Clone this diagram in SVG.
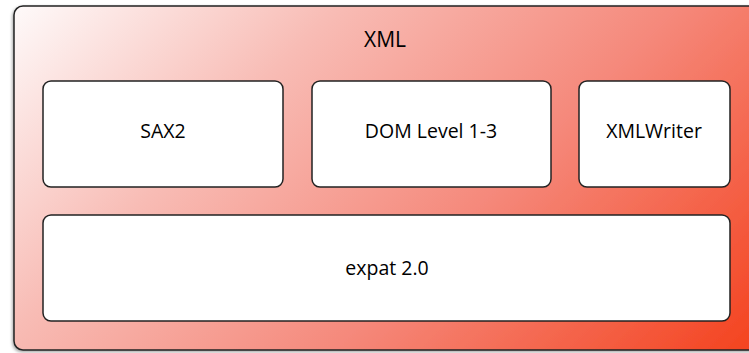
<svg xmlns="http://www.w3.org/2000/svg" width="749" height="353" viewBox="0 0 749 353">
<defs>
<linearGradient id="bg" x1="14" y1="6" x2="554" y2="546" gradientUnits="userSpaceOnUse">
<stop offset="0" stop-color="#fefafa"/>
<stop offset="0.3" stop-color="#f8bcb5"/>
<stop offset="0.62" stop-color="#f5887a"/>
<stop offset="1" stop-color="#f4431f"/>
</linearGradient>
<filter id="sh" x="-5%" y="-5%" width="110%" height="115%">
<feDropShadow dx="-1" dy="1.5" stdDeviation="1.5" flood-color="#000" flood-opacity="0.35"/>
</filter>
</defs>
<style>
.box{fill:#fff;stroke:#222;stroke-width:1.5}
.lbl{font-family:"Open Sans","Noto Sans","Liberation Sans",sans-serif;font-size:19.5px;fill:#000;text-anchor:middle;dominant-baseline:central}
</style>
<rect width="749" height="353" fill="#fff"/>
<g id="xml">
<rect x="14" y="6" width="745" height="344" rx="9" fill="url(#bg)" stroke="#222" stroke-width="1.5" filter="url(#sh)"/>
<text class="lbl" x="385" y="39" style="font-size:21px">XML</text>
</g>
<g id="sax2">
<rect class="box" x="43" y="81" width="240" height="106" rx="8"/>
<text class="lbl" x="163" y="130">SAX2</text>
</g>
<g id="dom">
<rect class="box" x="312" y="81" width="239" height="106" rx="8"/>
<text class="lbl" x="431" y="130">DOM Level 1-3</text>
</g>
<g id="xmlwriter">
<rect class="box" x="579" y="81" width="151" height="106" rx="8"/>
<text class="lbl" x="654" y="130">XMLWriter</text>
</g>
<g id="expat">
<rect class="box" x="43" y="215" width="687" height="106" rx="8"/>
<text class="lbl" x="387" y="267">expat 2.0</text>
</g>
<g id="connectors"/>
</svg>
